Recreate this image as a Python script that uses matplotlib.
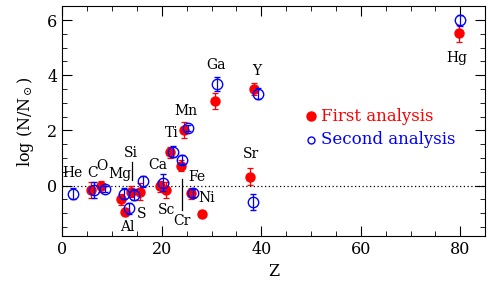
import matplotlib
matplotlib.use("Agg")
import matplotlib.pyplot as plt
from matplotlib.ticker import MultipleLocator

plt.rcParams['font.family'] = ['DejaVu Serif']
plt.rcParams['mathtext.fontset'] = 'dejavuserif'

'''Data read off the picture'''
# First analysis (red, filled)
z_first = [5.8, 7.7, 11.8, 12.6, 13.8, 15.7, 19.6, 20.9, 21.6, 23.8, 24.4, 25.9, 28.0, 30.7, 37.7, 38.5, 79.7]
y_first = [-0.17, -0.02, -0.5, -0.96, -0.23, -0.22, -0.03, -0.17, 1.2, 0.72, 2.02, -0.28, -1.02, 3.06, 0.32, 3.5, 5.52]
e_first = [0.3, 0.2, 0.2, 0.1, 0.2, 0.3, 0.2, 0.3, 0.2, 0.2, 0.3, 0.2, 0.1, 0.3, 0.3, 0.2, 0.3]

# Second analysis (blue, open)
z_second = [2.1, 6.3, 8.5, 12.3, 13.4, 14.4, 16.2, 20.3, 22.2, 24.1, 25.3, 26.2, 31.0, 38.3, 39.3, 80.0]
y_second = [-0.3, -0.17, -0.12, -0.3, -0.83, -0.34, 0.15, 0.1, 1.22, 0.94, 2.08, -0.28, 3.68, -0.6, 3.32, 6.0]
e_second = [0.2, 0.3, 0.1, 0.2, 0.2, 0.2, 0.2, 0.3, 0.2, 0.15, 0.1, 0.15, 0.25, 0.3, 0.2, 0.2]

# element labels
lab_text = ["He", "C", "O", "Mg", "Si", "Ca", "Al", "S", "Sc", "Cr", "Fe", "Ni", "Ti", "Mn", "Ga", "Y", "Sr", "Hg"]
lab_x = [2.0, 6.1, 8.0, 11.5, 13.8, 19.1, 13.0, 16.0, 20.9, 24.1, 27.0, 29.1, 21.9, 24.8, 30.8, 39.0, 37.9, 79.3]
lab_y = [0.47, 0.47, 0.72, 0.42, 1.18, 0.73, -1.5, -1.05, -0.87, -1.28, 0.3, -0.45, 1.9, 2.7, 4.38, 4.17, 1.15, 4.62]

fig, ax = plt.subplots(figsize=(4.91, 2.85), dpi=100)
fig.subplots_adjust(left=0.127, right=0.988, top=0.978, bottom=0.172)

ax.axhline(0, color='black', linestyle=(0, (1, 2)), linewidth=0.9, zorder=1)

ax.errorbar(z_first, y_first, yerr=e_first, fmt='o', color='red', markersize=6.5,
            capsize=2.5, elinewidth=0.9, capthick=0.9, label="First analysis", zorder=3)
ax.errorbar(z_second, y_second, yerr=e_second, fmt='o', color='blue', markersize=7.5,
            markerfacecolor='none', markeredgewidth=1.0, capsize=2.5, elinewidth=0.9,
            capthick=0.9, label="Second analysis", zorder=4)

for t, x, y in zip(lab_text, lab_x, lab_y):
    ax.text(x, y, t, ha='center', va='center', fontsize=10)

# little pointer lines
ax.plot([14.0, 14.0], [0.87, 0.2], color='black', linewidth=0.9)
ax.plot([24.0, 24.0], [0.24, -0.89], color='black', linewidth=0.9)

# legend drawn by hand
ax.plot([50], [2.52], 'o', color='red', markersize=6.5)
ax.plot([50], [1.66], 'o', color='blue', markersize=5, markerfacecolor='none')
ax.text(52, 2.52, "First analysis", color='red', fontsize=12, va='center')
ax.text(52, 1.66, "Second analysis", color='blue', fontsize=12, va='center')

ax.set_xlim(0, 85)
ax.set_ylim(-1.83, 6.5)
ax.xaxis.set_major_locator(MultipleLocator(20))
ax.xaxis.set_minor_locator(MultipleLocator(5))
ax.yaxis.set_major_locator(MultipleLocator(2))
ax.yaxis.set_minor_locator(MultipleLocator(0.5))
ax.tick_params(which='both', direction='in', top=True, right=True, labelsize=11.5)
ax.tick_params(which='major', length=7)
ax.tick_params(which='minor', length=3.5)
ax.set_xlabel("Z", fontsize=11.5)
ax.set_ylabel(r"log (N/N$_\odot$)", fontsize=11.5, labelpad=8)

fig.savefig("out.png", dpi=100)
